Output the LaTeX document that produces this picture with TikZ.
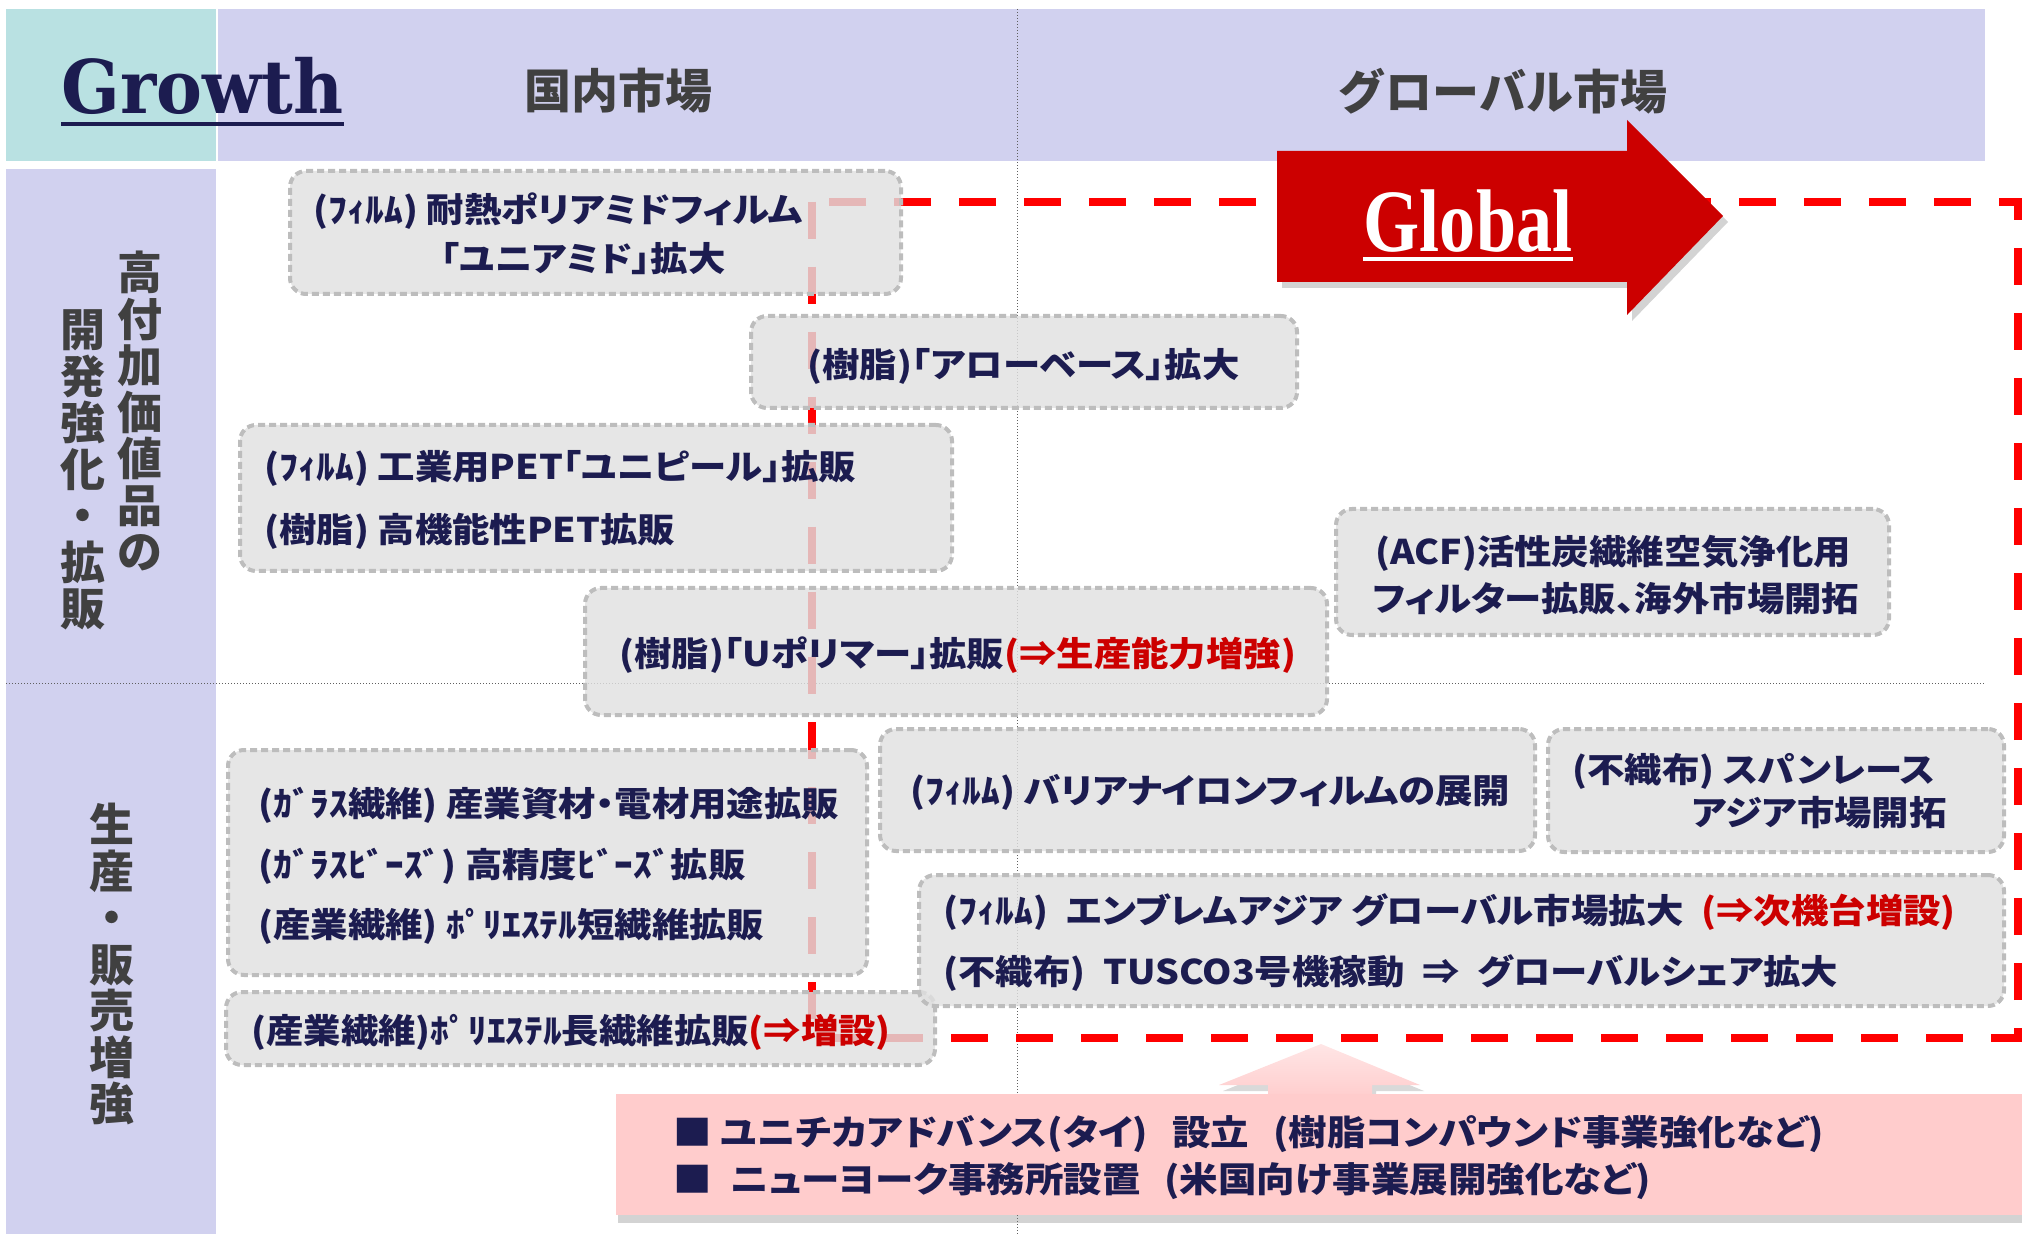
\documentclass[tikz,border=0pt]{standalone}
\usepackage{fontspec}
\setmainfont{Liberation Serif}
\newfontfamily\growthfont{DejaVu Serif}
\newfontfamily\jp{Noto Sans CJK JP}
\newfontfamily\jpw[FakeStretch=1.1,RawFeature=+palt]{Noto Sans CJK JP}
\usetikzlibrary{fit,shadows}
\definecolor{teal0}{HTML}{B9E1E2}
\definecolor{lav}{HTML}{D1D1EF}
\definecolor{navy}{HTML}{1C1C50}
\definecolor{hdgray}{HTML}{404040}
\definecolor{boxfill}{HTML}{E0E0E0}
\definecolor{boxline}{HTML}{BDBDBD}
\definecolor{arrred}{HTML}{CC0000}
\definecolor{txtred}{HTML}{CC0000}
\definecolor{pinkbox}{HTML}{FFCCCC}
\definecolor{dashred}{HTML}{FF0000}
\definecolor{dotgray}{HTML}{606060}
\begin{document}
\begin{tikzpicture}[x=0.5pt,y=-0.5pt,
  box/.style={draw=boxline, fill=boxfill, fill opacity=0.82, line width=2pt,
    dash pattern=on 3.5pt off 2pt, rounded corners=8pt, inner sep=0pt},
  btxt/.style={font=\jpw\bfseries\fontsize{17}{20}\selectfont, text=navy, inner sep=0pt, anchor=west},
  ptxt/.style={font=\jpw\bfseries\fontsize{17.5}{20}\selectfont, text=navy, inner sep=0pt, anchor=west},
  hd/.style={font=\jp\bfseries\fontsize{23.5}{26}\selectfont, text=hdgray, inner sep=0pt},
  vtxt/.style={font=\jp\bfseries\fontsize{22.5}{23.25}\selectfont, text=hdgray, inner sep=0pt, align=center},
  dotline/.style={draw=dotgray, line width=0.5pt, densely dotted},
  red dash/.style={draw=dashred, line width=4pt, dash pattern=on 18.5pt off 14pt},
]
\useasboundingbox (0,0) rectangle (2022,1234);
% backgrounds
\fill[teal0] (6,9) rectangle (216,161);
\fill[lav] (218,9) rectangle (1985,161);
\fill[lav] (6,169) rectangle (216,1234);
% headers
\node[anchor=base west, inner sep=0pt, text=navy, font=\growthfont\bfseries\fontsize{37}{42}\selectfont] (grw) at (61,114) {\scalebox{0.93}[1]{Growth}};
\draw[navy, line width=1.6pt] ([yshift=-5pt]grw.base west) -- ([yshift=-5pt]grw.base east);
\node[hd] (dom) at (618,91) {国内市場};
\node[hd] (glb) at (1503,91) {グローバル市場};
% vertical labels
\node[vtxt] (v1) at (140,411) {高\\付\\加\\価\\値\\品\\の};
\node[vtxt] (v2) at (83,470) {開\\発\\強\\化\\・\\拡\\販};
\node[vtxt] (v3) at (112,964) {生\\産\\・\\販\\売\\増\\強};
% dotted grid
\draw[dotline] (1017,9) -- (1017,1234);
\draw[dotline] (6,683) -- (1984,683);
% red dashed region
\draw[red dash] (812,202) rectangle (2018,1038);
% Global arrow
\fill[arrred, drop shadow={shadow xshift=2.5pt, shadow yshift=-3pt, opacity=0.35}]
  (1277,151) -- (1627,151) -- (1627,120) -- (1723,216) -- (1627,315) -- (1627,282) -- (1277,282) -- cycle;
\node[anchor=base, inner sep=0pt, text=white, font=\bfseries\fontsize{44.5}{50}\selectfont] (glo) at (1468,252) {\scalebox{0.81}[1]{Global}};
\draw[white, line width=2pt] ([yshift=-3.5pt]glo.base west) -- ([yshift=-3.5pt]glo.base east);
% boxes
\node[box, fit={(290,171) (901,294)}] (b1) {};
\node[box, fit={(751,316) (1297,408)}] (b2) {};
\node[box, fit={(240,425) (952,571)}] (b3) {};
\node[box, fit={(585,588) (1327,715)}] (b4) {};
\node[box, fit={(1336,509) (1889,635)}] (b5) {};
\node[box, fit={(228,750) (867,975)}] (b6) {};
\node[box, fit={(226,992) (935,1065)}] (b7) {};
\node[box, fit={(880,729) (1535,851)}] (b8) {};
\node[box, fit={(1548,729) (2004,852)}] (b9) {};
\node[box, fit={(919,875) (2004,1006)}] (b10) {};
% box texts
\node[btxt] (t1a) at (313,211) {(ﾌｨﾙﾑ) 耐熱ポリアミドフィルム};
\node[btxt] (t1b) at (440,259) {「ユニアミド」拡大};
\node[btxt] (t2) at (807,366) {(樹脂)「アローベース」拡大};
\node[btxt] (t3a) at (264,468) {(ﾌｨﾙﾑ) 工業用PET「ユニピール」拡販};
\node[btxt] (t3b) at (264,531) {(樹脂) 高機能性PET拡販};
\node[btxt] (t4) at (619,655) {(樹脂)「Uポリマー」拡販\textcolor{txtred}{(⇒生産能力増強)}};
\node[btxt] (t5a) at (1375,553) {(ACF)活性炭繊維空気浄化用};
\node[btxt] (t5b) at (1372,599) {フィルター拡販、海外市場開拓};
\node[btxt] (t6a) at (258,805) {(ｶﾞﾗｽ繊維) 産業資材・電材用途拡販};
\node[btxt] (t6b) at (258,866) {(ｶﾞﾗｽﾋﾞｰｽﾞ) 高精度ﾋﾞｰｽﾞ拡販};
\node[btxt] (t6c) at (258,926) {(産業繊維) ﾎﾟﾘｴｽﾃﾙ短繊維拡販};
\node[btxt] (t7) at (251,1032) {(産業繊維)ﾎﾟﾘｴｽﾃﾙ長繊維拡販\textcolor{txtred}{(⇒増設)}};
\node[btxt] (t8) at (910,792) {(ﾌｨﾙﾑ) バリアナイロンフィルムの展開};
\node[btxt] (t9a) at (1572,771) {(不織布) スパンレース};
\node[btxt, anchor=east] (t9b) at (1947,813) {アジア市場開拓};
\node[btxt] (t10a) at (943,912) {(ﾌｨﾙﾑ)\hspace{9pt}エンブレムアジア グローバル市場拡大\hspace{9pt}\textcolor{txtred}{(⇒次機台増設)}};
\node[btxt] (t10b) at (943,973) {(不織布)\hspace{9pt}TUSCO3号機稼動\hspace{9pt}⇒\hspace{9pt}グローバルシェア拡大};
% pink arrow and box
\shade[top color=pinkbox!50!white, bottom color=pinkbox, drop shadow={shadow xshift=2pt, shadow yshift=-3pt, opacity=0.3}]
  (1268,1100) -- (1268,1085) -- (1219,1085) -- (1321,1044) -- (1420,1085) -- (1372,1085) -- (1372,1100) -- cycle;
\node[fill=pinkbox, inner sep=0pt, drop shadow={shadow xshift=1pt, shadow yshift=-4pt, opacity=0.35}, fit={(616,1094) (2022,1215)}] (pb) {};
\node[ptxt] (p1) at (673,1134) {■\hspace{4.5pt}ユニチカアドバンス(タイ)\hspace{12pt}設立\hspace{12pt}(樹脂コンパウンド事業強化など)};
\node[ptxt] (p2) at (673,1181) {■\hspace{9.5pt}ニューヨーク事務所設置\hspace{12pt}(米国向け事業展開強化など)};
\end{tikzpicture}
\end{document}
